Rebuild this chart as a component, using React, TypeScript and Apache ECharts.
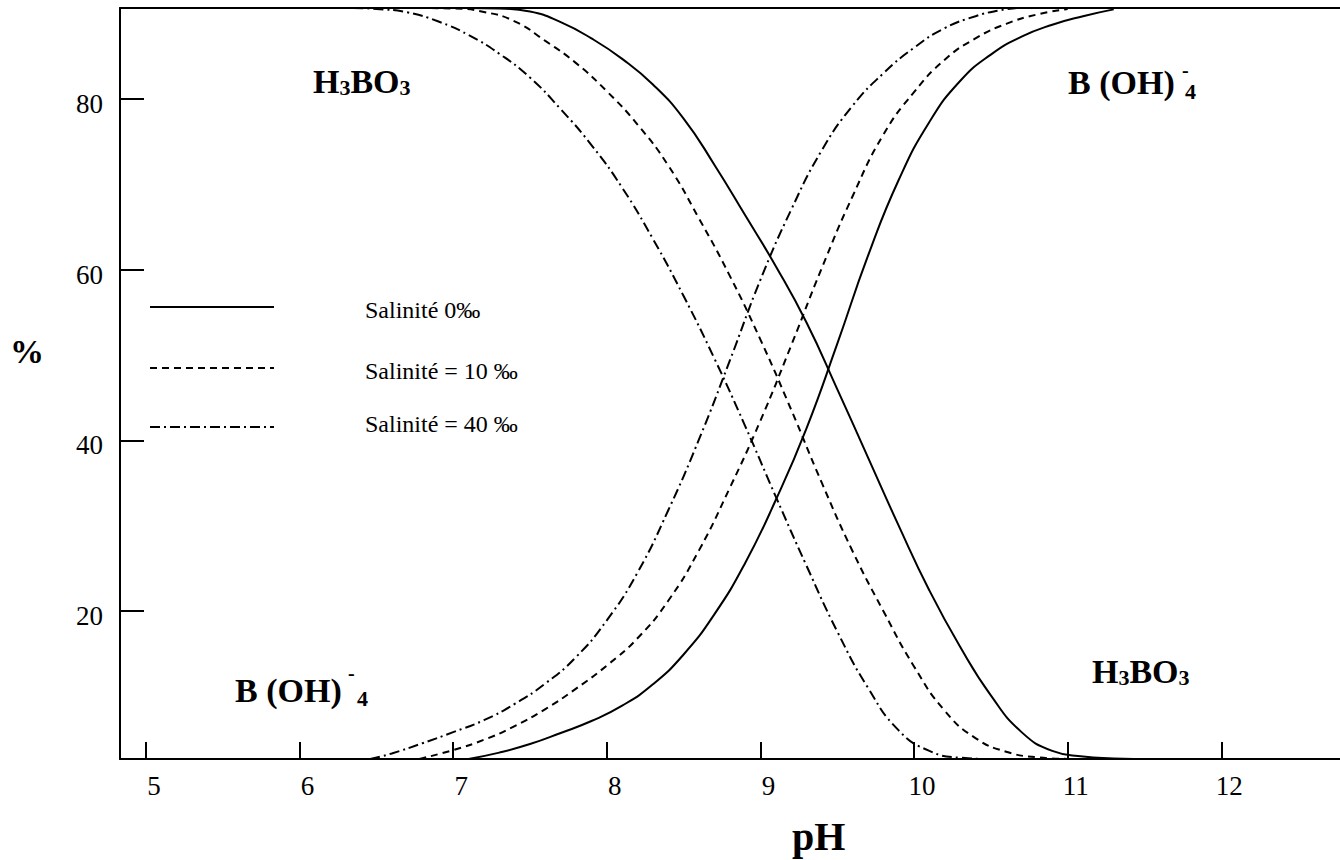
import React, { useEffect, useRef } from "react";
import * as echarts from "echarts";

// ---- axis ticks ----
const xTicks = [5, 6, 7, 8, 9, 10, 11, 12];
const yTicks = [20, 40, 60, 80];
const X_MIN = 4.831;
const X_MAX = 12.773;
const Y_MIN = 2.65;
const Y_MAX = 90.66;

// ---- legend names ----
const nameS0 = "Salinité 0‰";
const nameS10 = "Salinité = 10 ‰";
const nameS40 = "Salinité = 40 ‰";

// ---- H3BO3 (%), decreasing with pH ----
const h3bo3_S0: [number, number][] = [
  [7.1, 90.66], [7.3, 90.6], [7.5, 90.25], [7.7, 89.0], [7.9, 87.1], [8.1, 84.7], [8.3, 81.7],
  [8.5, 77.7], [8.7, 72.3], [8.9, 66.4], [9.1, 60.4], [9.3, 53.8], [9.5, 46.0], [9.7, 38.0],
  [9.9, 30.0], [10.1, 22.4], [10.3, 15.8], [10.5, 10.1], [10.7, 5.8], [10.9, 3.6], [11.1, 2.95],
  [11.3, 2.72], [11.43, 2.66],
];
const h3bo3_S10: [number, number][] = [
  [6.78, 90.66], [7.0, 90.6], [7.2, 90.2], [7.4, 89.1], [7.6, 86.8], [7.8, 84.2], [8.0, 80.9],
  [8.2, 77.0], [8.4, 72.2], [8.6, 66.0], [8.8, 59.3], [9.0, 51.8], [9.2, 43.6], [9.4, 35.0],
  [9.6, 27.0], [9.8, 20.0], [10.0, 13.5], [10.2, 8.3], [10.4, 5.1], [10.6, 3.5], [10.8, 2.85],
  [11.0, 2.66],
];
const h3bo3_S40: [number, number][] = [
  [6.35, 90.66], [6.5, 90.55], [6.7, 90.15], [6.9, 89.1], [7.1, 87.5], [7.3, 85.3], [7.5, 82.5],
  [7.7, 78.8], [7.9, 74.6], [8.1, 69.6], [8.3, 63.6], [8.5, 56.9], [8.7, 49.6], [8.9, 41.7],
  [9.1, 33.4], [9.3, 25.3], [9.5, 17.6], [9.7, 11.0], [9.9, 6.0], [10.1, 3.6], [10.3, 2.8],
  [10.5, 2.66], [10.74, 2.66],
];

// ---- B(OH)4- (%), increasing with pH ----
const boh4_S0: [number, number][] = [
  [7.1, 2.66], [7.3, 3.4], [7.5, 4.4], [7.7, 5.7], [7.9, 7.1], [8.1, 8.9], [8.3, 11.4],
  [8.5, 14.9], [8.7, 19.6], [8.9, 25.6], [9.1, 33.0], [9.3, 41.4], [9.5, 51.3], [9.7, 61.6],
  [9.9, 70.5], [10.1, 77.3], [10.3, 82.1], [10.5, 85.2], [10.7, 87.3], [10.9, 88.7], [11.1, 89.7],
  [11.3, 90.5],
];
const boh4_S10: [number, number][] = [
  [6.78, 2.66], [7.0, 3.7], [7.2, 4.9], [7.4, 6.5], [7.6, 8.5], [7.8, 10.9], [8.0, 13.6],
  [8.2, 16.8], [8.4, 21.2], [8.6, 27.1], [8.8, 34.4], [9.0, 42.3], [9.2, 51.1], [9.4, 60.2],
  [9.6, 68.6], [9.8, 75.8], [10.0, 80.8], [10.2, 84.6], [10.4, 87.1], [10.6, 88.8], [10.8, 89.9],
  [11.0, 90.55],
];
const boh4_S40: [number, number][] = [
  [6.46, 2.66], [6.6, 3.3], [6.8, 4.5], [7.0, 5.8], [7.2, 7.2], [7.4, 9.1], [7.6, 11.5],
  [7.8, 14.6], [8.0, 18.9], [8.2, 24.5], [8.4, 31.8], [8.6, 40.1], [8.8, 49.3], [9.0, 58.8],
  [9.2, 67.0], [9.4, 74.0], [9.6, 79.2], [9.8, 83.0], [10.0, 86.0], [10.2, 88.3], [10.4, 89.7],
  [10.56, 90.4], [10.67, 90.66],
];

const SERIF = '"Liberation Serif", "Times New Roman", serif';
const DASHED = [7, 5];
const DASHDOT = [10, 4, 2, 4];

function lineSeries(name: string, data: [number, number][], dash: any) {
  return {
    type: "line",
    name,
    data,
    symbol: "none",
    smooth: 0.5,
    clip: false,
    silent: true,
    lineStyle: { color: "#000", width: 2, type: dash },
  };
}

function chemLabel(x: number, y: number, main: string[]) {
  return {
    type: "text",
    x,
    y,
    silent: true,
    style: {
      text: main.join(""),
      align: "left",
      verticalAlign: "middle",
      textAlign: "left",
      textVerticalAlign: "middle",
      fill: "#000",
      rich: {
        b: { fontSize: 34, fontWeight: "bold", fontFamily: SERIF, lineHeight: 36, verticalAlign: "bottom", color: "#000" },
        s: { fontSize: 22, fontWeight: "bold", fontFamily: SERIF, lineHeight: 24, verticalAlign: "bottom", color: "#000" },
      },
    },
  };
}

function plainText(x: number, y: number, text: string, size: number, bold: boolean) {
  return {
    type: "text",
    x,
    y,
    silent: true,
    style: {
      text,
      fontSize: size,
      fontWeight: bold ? "bold" : "normal",
      fontFamily: SERIF,
      fill: "#000",
      align: "left",
      verticalAlign: "middle",
      textAlign: "left",
      textVerticalAlign: "middle",
    },
  };
}

function legendLine(y: number, dash: any) {
  return {
    type: "line",
    silent: true,
    shape: { x1: 150, y1: y, x2: 274, y2: y },
    style: { stroke: "#000", lineWidth: 2, lineDash: dash },
  };
}

export default function App() {
  const ref = useRef<HTMLDivElement>(null);

  useEffect(() => {
    if (!ref.current) return;
    const chart = echarts.init(ref.current, undefined, { renderer: "svg" });
    const option: any = {
      animation: false,
      backgroundColor: "#fff",
      grid: {
        left: 120,
        right: 0,
        top: 8,
        bottom: 101,
        containLabel: false,
        outerBoundsMode: "none",
      },
      xAxis: [
        {
          type: "value",
          min: X_MIN,
          max: X_MAX,
          axisLine: { show: true, onZero: false, lineStyle: { color: "#000", width: 2 } },
          axisTick: {
            show: true,
            inside: true,
            length: 17,
            customValues: xTicks,
            lineStyle: { color: "#000", width: 2 },
          },
          axisLabel: {
            show: true,
            customValues: xTicks,
            margin: 13,
            padding: [0, 0, 0, 16],
            fontSize: 27,
            fontFamily: SERIF,
            color: "#000",
          },
          splitLine: { show: false },
        },
        {
          type: "value",
          position: "top",
          min: X_MIN,
          max: X_MAX,
          axisLine: { show: true, onZero: false, lineStyle: { color: "#000", width: 2 } },
          axisTick: { show: false },
          axisLabel: { show: false },
          splitLine: { show: false },
        },
      ],
      yAxis: {
        type: "value",
        min: Y_MIN,
        max: Y_MAX,
        axisLine: { show: true, onZero: false, lineStyle: { color: "#000", width: 2 } },
        axisTick: {
          show: true,
          inside: true,
          length: 24,
          customValues: yTicks,
          lineStyle: { color: "#000", width: 2 },
        },
        axisLabel: {
          show: true,
          customValues: yTicks,
          margin: 17,
          verticalAlign: "top",
          lineHeight: 10,
          fontSize: 27,
          fontFamily: SERIF,
          color: "#000",
        },
        splitLine: { show: false },
      },
      series: [
        lineSeries(nameS0, h3bo3_S0, "solid"),
        lineSeries(nameS10, h3bo3_S10, DASHED),
        lineSeries(nameS40, h3bo3_S40, DASHDOT),
        lineSeries(nameS0, boh4_S0, "solid"),
        lineSeries(nameS10, boh4_S10, DASHED),
        lineSeries(nameS40, boh4_S40, DASHDOT),
      ],
      graphic: [
        // legend
        legendLine(307, null),
        legendLine(368, DASHED),
        legendLine(427, DASHDOT),
        plainText(365, 310, nameS0, 24, false),
        plainText(365, 371, nameS10, 24, false),
        plainText(365, 424, nameS40, 24, false),
        // species labels
        chemLabel(313, 80, ["{b|H}", "{s|3}", "{b|BO}", "{s|3}"]),
        chemLabel(1092, 670, ["{b|H}", "{s|3}", "{b|BO}", "{s|3}"]),
        plainText(1068, 82, "B (OH)", 34, true),
        plainText(1182, 70, "-", 20, true),
        plainText(1185, 91, "4", 22, true),
        plainText(235, 690, "B (OH)", 34, true),
        plainText(348, 673, "-", 20, true),
        plainText(357, 698, "4", 22, true),
        // axis titles
        plainText(10, 351, "%", 34, true),
        plainText(792, 836, "pH", 40, true),
      ],
    };
    chart.setOption(option);
    return () => {
      chart.dispose();
    };
  }, []);

  return (
    <div
      ref={ref}
      style={{ position: "absolute", left: 0, top: 0, width: 1340, height: 860, background: "#fff" }}
    />
  );
}
